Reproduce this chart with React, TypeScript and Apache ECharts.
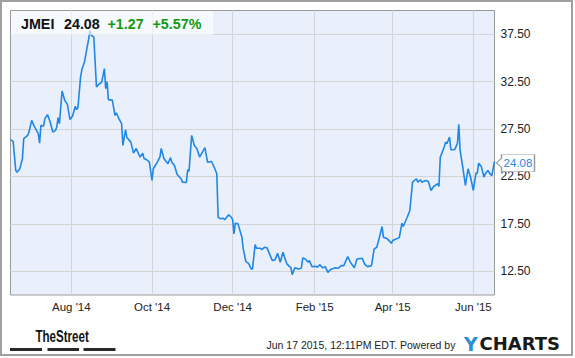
import React, { useEffect, useRef } from 'react';
import * as echarts from 'echarts';

const ticker = 'JMEI';
const lastPrice = '24.08';
const priceChange = '+1.27';
const priceChangePct = '+5.57%';
const footerText = 'Jun 17 2015, 12:11PM EDT. Powered by';
const brandLeft = 'TheStreet';

const dates = [
  '2014-06-16','2014-06-18','2014-06-20','2014-06-21','2014-06-23','2014-06-25','2014-06-26','2014-06-29','2014-06-30','2014-07-02',
  '2014-07-04','2014-07-07','2014-07-08','2014-07-09','2014-07-11','2014-07-12','2014-07-14','2014-07-16','2014-07-18','2014-07-20',
  '2014-07-21','2014-07-22','2014-07-23','2014-07-25','2014-07-27','2014-07-29','2014-07-31','2014-08-02','2014-08-04','2014-08-05',
  '2014-08-06','2014-08-08','2014-08-09','2014-08-11','2014-08-13','2014-08-14','2014-08-15','2014-08-16','2014-08-18','2014-08-20',
  '2014-08-22','2014-08-24','2014-08-26','2014-08-27','2014-08-28','2014-08-29','2014-09-01','2014-09-03','2014-09-04','2014-09-06',
  '2014-09-08','2014-09-09','2014-09-11','2014-09-12','2014-09-15','2014-09-17','2014-09-19','2014-09-22','2014-09-24','2014-09-25',
  '2014-09-27','2014-09-29','2014-10-01','2014-10-02','2014-10-05','2014-10-07','2014-10-08','2014-10-10','2014-10-13','2014-10-15',
  '2014-10-16','2014-10-18','2014-10-20','2014-10-23','2014-10-24','2014-10-27','2014-10-28','2014-10-29','2014-10-31','2014-11-02',
  '2014-11-04','2014-11-06','2014-11-10','2014-11-12','2014-11-15','2014-11-17','2014-11-19','2014-11-20','2014-11-22','2014-11-24',
  '2014-11-25','2014-11-28','2014-11-30','2014-12-01','2014-12-02','2014-12-03','2014-12-05','2014-12-08','2014-12-09','2014-12-11',
  '2014-12-13','2014-12-15','2014-12-16','2014-12-18','2014-12-19','2014-12-22','2014-12-23','2014-12-25','2014-12-27','2014-12-31',
  '2015-01-02','2015-01-04','2015-01-06','2015-01-08','2015-01-11','2015-01-13','2015-01-14','2015-01-15','2015-01-17','2015-01-20',
  '2015-01-22','2015-01-23','2015-01-25','2015-01-27','2015-01-28','2015-01-30','2015-02-02','2015-02-03','2015-02-05','2015-02-07',
  '2015-02-09','2015-02-11','2015-02-13','2015-02-16','2015-02-19','2015-02-21','2015-02-23','2015-02-26','2015-02-28','2015-03-03',
  '2015-03-05','2015-03-09','2015-03-11','2015-03-13','2015-03-16','2015-03-18','2015-03-20','2015-03-22','2015-03-24','2015-03-25',
  '2015-03-28','2015-03-31','2015-04-01','2015-04-04','2015-04-06','2015-04-08','2015-04-09','2015-04-12','2015-04-14','2015-04-16',
  '2015-04-19','2015-04-20','2015-04-22','2015-04-23','2015-04-26','2015-04-28','2015-04-30','2015-05-02','2015-05-05','2015-05-06',
  '2015-05-07','2015-05-10','2015-05-11','2015-05-12','2015-05-14','2015-05-15','2015-05-18','2015-05-20','2015-05-21','2015-05-22',
  '2015-05-24','2015-05-26','2015-05-28','2015-05-30','2015-06-01','2015-06-03','2015-06-04','2015-06-05','2015-06-07','2015-06-09',
  '2015-06-10','2015-06-12','2015-06-14','2015-06-15','2015-06-17'
];

const closes = [
  26.38, 26.2, 23.13, 22.95, 23.3, 24.37, 26.48, 26.83, 27.18, 28.42,
  27.78, 27.01, 26.02, 27.9, 27.8, 28.6, 29.02, 28.24, 27.18, 27.36,
  27.71, 28.7, 28.07, 31.51, 30.53, 30.1, 28.49, 28.9, 29.9, 29.55,
  29.76, 33.0, 33.77, 34.6, 36.16, 36.9, 37.85, 37.4, 37.2, 31.95,
  32.25, 32.45, 33.88, 31.76, 32.5, 30.6, 30.55, 28.94, 29.2, 28.6,
  28.07, 25.77, 27.45, 26.6, 26.12, 24.96, 25.45, 24.54, 24.96, 24.4,
  24.26, 24.01, 22.08, 23.31, 24.01, 24.54, 25.45, 24.4, 23.84, 24.48,
  24.01, 23.66, 22.71, 22.26, 21.9, 21.87, 23.21, 23.06, 26.83, 25.77,
  25.43, 24.54, 25.53, 24.01, 24.08, 23.49, 22.79, 18.2, 18.03, 18.1,
  17.93, 18.45, 18.2, 17.93, 16.45, 17.57, 17.5, 16.09, 14.86, 13.52,
  13.34, 12.75, 12.75, 15.32, 14.93, 14.93, 14.79, 15.03, 14.97, 13.63,
  13.7, 14.4, 13.45, 14.5, 13.28, 12.99, 12.92, 12.15, 12.86, 12.75,
  12.86, 13.91, 13.8, 13.45, 13.63, 12.99, 13.03, 12.92, 13.2, 12.86,
  12.99, 12.39, 12.68, 12.86, 12.82, 13.1, 13.1, 14.05, 13.45, 12.86,
  13.8, 13.87, 13.2, 12.99, 13.1, 14.86, 15.03, 16.1, 17.22, 16.1,
  15.92, 15.45, 15.74, 15.92, 16.06, 17.57, 17.22, 18.2, 18.91, 21.9,
  22.26, 21.9, 22.15, 21.9, 22.08, 21.97, 21.02, 21.44, 21.73, 21.44,
  24.54, 25.6, 26.12, 25.95, 26.65, 25.32, 25.35, 26.02, 27.99, 25.25,
  23.49, 21.55, 23.31, 22.36, 21.02, 22.85, 22.85, 23.9, 23.56, 22.43,
  22.79, 23.13, 22.71, 22.6, 24.08
];

const xRange = ['2014-06-16', '2015-06-17'];
const xTickDates = ['2014-08-01', '2014-10-01', '2014-12-01', '2015-02-01', '2015-04-01', '2015-06-01'];
const xTickLabels = ["Aug '14", "Oct '14", "Dec '14", "Feb '15", "Apr '15", "Jun '15"];
const yTickValues = [12.5, 17.5, 22.5, 27.5, 32.5, 37.5];
const yRange = [10, 40];

const toTs = (s: string) => {
  const [y, m, d] = s.split('-').map(Number);
  return Date.UTC(y, m - 1, d);
};

const FONT = '"Liberation Sans", Arial, Helvetica, sans-serif';
const LINE_COLOR = '#1f87e5';
const GREEN = '#139a13';

export default function App() {
  const ref = useRef<HTMLDivElement>(null);

  useEffect(() => {
    document.body.style.margin = '0';
    if (!ref.current) return;
    const chart = echarts.init(ref.current, null, { renderer: 'svg' });
    const tickTs = xTickDates.map(toTs);
    const seriesData = dates.map((d, i) => [toTs(d), closes[i]]);
    const last = seriesData[seriesData.length - 1];

    chart.setOption({
      animation: false,
      backgroundColor: '#ffffff',
      grid: {
        left: 10.5,
        top: 10.5,
        width: 484,
        height: 284.5,
        show: true,
        backgroundColor: '#e9f0fb',
        borderColor: '#9a9a9a',
        borderWidth: 1,
        containLabel: false,
      },
      xAxis: {
        type: 'value',
        min: toTs(xRange[0]),
        max: toTs(xRange[1]),
        axisLine: { show: false },
        axisTick: { show: false, customValues: tickTs },
        axisLabel: {
          customValues: tickTs,
          formatter: (v: number) => {
            const i = tickTs.indexOf(v);
            return i >= 0 ? xTickLabels[i] : '';
          },
          fontFamily: FONT,
          fontSize: 11.5,
          color: '#222',
          margin: 6,
        },
        splitLine: { show: true, lineStyle: { color: '#d4d4d4', width: 1 } },
      },
      yAxis: {
        type: 'value',
        position: 'right',
        min: yRange[0],
        max: yRange[1],
        interval: 2.5,
        axisLine: { show: false },
        axisTick: { show: false },
        axisLabel: {
          formatter: (v: number) => (yTickValues.indexOf(v) >= 0 ? v.toFixed(2) : ''),
          fontFamily: FONT,
          fontSize: 12,
          color: '#222',
          margin: 6,
        },
        splitLine: {
          show: true,
          showMinLine: true,
          showMaxLine: true,
          lineStyle: { color: ['rgba(0,0,0,0)', '#d4d4d4'], width: 1 },
        },
      },
      series: [
        {
          type: 'line',
          data: seriesData,
          showSymbol: false,
          symbol: 'none',
          lineStyle: { color: LINE_COLOR, width: 1.6 },
          itemStyle: { color: LINE_COLOR },
          silent: true,
          markPoint: {
            silent: true,
            symbol: 'path://M0,8.5L5,4L5,0L38,0L38,17L5,17L5,13Z',
            symbolSize: [38, 17],
            symbolOffset: [21, 1.5],
            itemStyle: { color: '#ffffff', borderColor: '#9a9a9a', borderWidth: 1 },
            label: {
              show: true,
              position: 'inside',
              offset: [2.5, 0],
              color: LINE_COLOR,
              fontFamily: FONT,
              fontSize: 11.5,
              formatter: (p: any) => Number(p.value).toFixed(2),
            },
            data: [{ coord: last, value: last[1] }],
          },
        },
      ],
      graphic: [
        {
          type: 'rect',
          z: 100,
          silent: true,
          shape: { x: 1, y: 1, width: 571, height: 354 },
          style: { fill: 'none', stroke: '#a0a0a0', lineWidth: 2 },
        },
        {
          type: 'rect',
          z: 100,
          silent: true,
          shape: { x: 11, y: 11, width: 202, height: 24 },
          style: { fill: 'rgba(255,255,255,0.6)' },
        },
        {
          type: 'text', z: 101, x: 21, y: 24,
          style: { text: ticker, fill: '#111', fontFamily: FONT, fontWeight: 'bold', fontSize: 14.3, verticalAlign: 'middle' },
        },
        {
          type: 'text', z: 101, x: 64, y: 24,
          style: { text: lastPrice, fill: '#111', fontFamily: FONT, fontWeight: 'bold', fontSize: 14.3, verticalAlign: 'middle' },
        },
        {
          type: 'text', z: 101, x: 107.5, y: 24,
          style: { text: priceChange, fill: GREEN, fontFamily: FONT, fontWeight: 'bold', fontSize: 14.3, verticalAlign: 'middle' },
        },
        {
          type: 'text', z: 101, x: 152.5, y: 24,
          style: { text: priceChangePct, fill: GREEN, fontFamily: FONT, fontWeight: 'bold', fontSize: 14.3, verticalAlign: 'middle' },
        },
        {
          type: 'text', z: 101, x: 35.5, y: 336, scaleX: 0.68, scaleY: 1,
          style: { text: brandLeft, fill: '#111', fontFamily: FONT, fontWeight: 'bold', fontSize: 17, verticalAlign: 'middle' },
        },
        { type: 'rect', z: 101, shape: { x: 10, y: 348, width: 32, height: 3 }, style: { fill: '#2a2a2a' } },
        { type: 'rect', z: 101, shape: { x: 47.5, y: 348, width: 31.5, height: 3 }, style: { fill: '#2a2a2a' } },
        { type: 'rect', z: 101, shape: { x: 83.5, y: 348, width: 32, height: 3 }, style: { fill: '#2a2a2a' } },
        {
          type: 'text', z: 101, x: 266.5, y: 344.5,
          style: { text: footerText, fill: '#222', fontFamily: FONT, fontSize: 10.5, verticalAlign: 'middle' },
        },
        {
          type: 'text', z: 101, x: 464, y: 343.5,
          style: { text: 'Y', fill: '#2b8fd6', fontFamily: '"DejaVu Sans", sans-serif', fontWeight: 'bold', fontSize: 19, verticalAlign: 'middle' },
        },
        {
          type: 'text', z: 101, x: 479.5, y: 343.5,
          style: { text: 'CHARTS', fill: '#1a1a1a', fontFamily: '"DejaVu Sans", sans-serif', fontWeight: 'bold', fontSize: 18, verticalAlign: 'middle' },
        },
      ],
    });

    return () => chart.dispose();
  }, []);

  return <div ref={ref} style={{ width: 575, height: 358 }} />;
}
